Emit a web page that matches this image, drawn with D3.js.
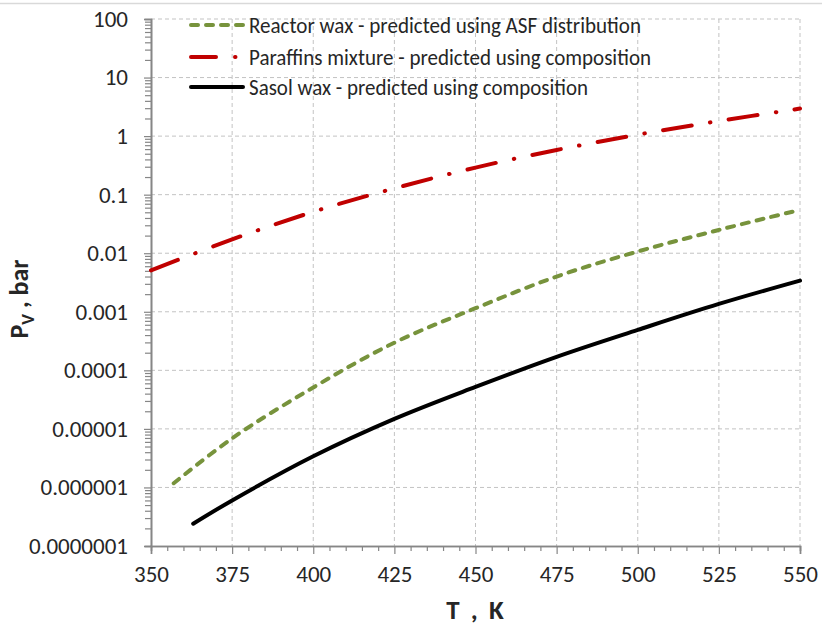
<!DOCTYPE html>
<html>
<head>
<meta charset="utf-8">
<script src="https://cdn.jsdelivr.net/npm/d3@7/dist/d3.min.js"></script>
<style>
  html, body { margin: 0; padding: 0; background: #fff; }
  svg { display: block; }
  text { font-family: Calibri, Carlito, Lato, "Open Sans", sans-serif; fill: #262626; }
</style>
</head>
<body>
<svg id="chart" width="822" height="633"></svg>
<script>
// Vapour pressure (bar) versus temperature (K)
const tempReactor  = [357, 375, 400, 425, 450, 475, 500, 525, 550];
const presReactor  = [1.18e-6, 6.9e-6, 5.1e-5, 2.97e-4, 1.15e-3, 4.0e-3, 1.07e-2, 2.5e-2, 5.5e-2];

const tempParaffin = [350, 375, 400, 425, 450, 475, 500, 525, 550];
const presParaffin = [5.1e-3, 1.72e-2, 5.1e-2, 0.128, 0.29, 0.58, 1.06, 1.81, 2.95];

const tempSasol    = [363, 375, 400, 425, 450, 475, 500, 525, 550];
const presSasol    = [2.4e-7, 6.0e-7, 3.4e-6, 1.48e-5, 5.2e-5, 1.7e-4, 4.9e-4, 1.36e-3, 3.4e-3];

const seriesNames = [
  "Reactor wax - predicted using ASF distribution",
  "Paraffins mixture - predicted using composition",
  "Sasol wax - predicted using composition"
];

const xTicks = [350, 375, 400, 425, 450, 475, 500, 525, 550];
const yTicks = [1e-7, 1e-6, 1e-5, 1e-4, 1e-3, 1e-2, 1e-1, 1, 10, 100];
const yTickLabels = ["0.0000001", "0.000001", "0.00001", "0.0001", "0.001", "0.01", "0.1", "1", "10", "100"];

const svg = d3.select("#chart");
const W = 822, H = 633;
const plot = { left: 151, right: 800, top: 19, bottom: 546 };

const x = d3.scaleLinear().domain([350, 550]).range([plot.left, plot.right]);
const y = d3.scaleLog().domain([1e-7, 100]).range([plot.bottom, plot.top]);

// thin frame line along the top of the chart area
svg.append("line")
  .attr("x1", 0).attr("x2", W).attr("y1", 3.5).attr("y2", 3.5)
  .attr("stroke", "#d9d9d9").attr("stroke-width", 1.5);

// gridlines
const grid = svg.append("g").attr("stroke", "#c3c3c3").attr("stroke-width", 1)
  .attr("stroke-dasharray", "4,3").attr("fill", "none");
xTicks.filter(t => t > 350).forEach(t => {
  grid.append("line").attr("x1", x(t)).attr("x2", x(t))
    .attr("y1", plot.top).attr("y2", plot.bottom);
});
yTicks.filter(t => t > 1e-7).forEach(t => {
  grid.append("line").attr("x1", plot.left).attr("x2", plot.right)
    .attr("y1", y(t)).attr("y2", y(t));
});

// minor tick positions
const yMinor = [];
for (let k = -7; k <= 1; k++) for (let m = 2; m <= 9; m++) yMinor.push(m * Math.pow(10, k));
const xMinor = d3.range(355, 550, 5).filter(v => v % 25 !== 0);

const axisColor = "#868686";

// y axis: minor ticks, then major ticks with labels
const yMinorAxis = svg.append("g").attr("transform", `translate(${plot.left},0)`)
  .call(d3.axisLeft(y).tickValues(yMinor).tickSize(6).tickFormat(""));
const yAxis = svg.append("g").attr("transform", `translate(${plot.left},0)`)
  .call(d3.axisLeft(y).tickValues(yTicks).tickSize(7).tickPadding(16)
    .tickFormat((d, i) => yTickLabels[i]));

// x axis: minor ticks, then major ticks with labels
const xMinorAxis = svg.append("g").attr("transform", `translate(0,${plot.bottom})`)
  .call(d3.axisBottom(x).tickValues(xMinor).tickSize(5).tickFormat(""));
const xAxis = svg.append("g").attr("transform", `translate(0,${plot.bottom})`)
  .call(d3.axisBottom(x).tickValues(xTicks).tickSize(8).tickPadding(12)
    .tickFormat(d3.format("d")));

[yMinorAxis, yAxis, xMinorAxis, xAxis].forEach(g => {
  g.select(".domain").attr("stroke", axisColor).attr("stroke-width", 1.6);
  g.selectAll(".tick line").attr("stroke", axisColor).attr("stroke-width", 1.2);
  g.selectAll(".tick text").attr("fill", "#262626")
    .style("font-size", "23px").style("font-family", "Calibri, Carlito, Lato, sans-serif");
});

// axis titles
svg.append("text")
  .attr("x", 475).attr("y", 619).attr("text-anchor", "middle")
  .style("font-size", "27px").style("font-weight", "bold")
  .style("word-spacing", "5px")
  .text("T , K");

const yTitle = svg.append("text")
  .attr("transform", "translate(28,299) rotate(-90)")
  .attr("text-anchor", "middle")
  .style("font-size", "26px").style("font-weight", "bold");
yTitle.append("tspan").text("P");
yTitle.append("tspan").attr("dy", 6).style("font-size", "18px").text("V");
yTitle.append("tspan").attr("dy", -6).text(" , bar");

// series lines
const line = d3.line()
  .x(d => x(d[0]))
  .y(d => y(d[1]))
  .curve(d3.curveCatmullRom.alpha(0.5));

const series = [
  { name: seriesNames[0], temps: tempReactor, pres: presReactor, color: "#77933C",
    dash: "7,8", legendDash: "7,8", legendEnd: 243 },
  { name: seriesNames[1], temps: tempParaffin, pres: presParaffin, color: "#C00000",
    dash: "29,18.5,0.5,18.5", legendDash: "25,19,0.5,20", legendEnd: 236 },
  { name: seriesNames[2], temps: tempSasol, pres: presSasol, color: "#000000",
    dash: null, legendDash: null, legendEnd: 243 }
];

const plotG = svg.append("g");
series.forEach(s => {
  const pts = s.temps.map((t, i) => [t, s.pres[i]]);
  plotG.append("path")
    .datum(pts)
    .attr("d", line)
    .attr("fill", "none")
    .attr("stroke", s.color)
    .attr("stroke-width", 4)
    .attr("stroke-linecap", "round")
    .attr("stroke-linejoin", "round")
    .attr("stroke-dasharray", s.dash);
});

// legend
const legendRows = [25, 57, 87];
const legendWidths = [392, 402, 339];
const legend = svg.append("g");
series.forEach((s, i) => {
  const cy = legendRows[i];
  legend.append("line")
    .attr("x1", 191).attr("x2", s.legendEnd)
    .attr("y1", cy).attr("y2", cy)
    .attr("stroke", s.color).attr("stroke-width", 4)
    .attr("stroke-linecap", "round")
    .attr("stroke-dasharray", s.legendDash);
  legend.append("text")
    .attr("x", 249).attr("y", cy + 7.5)
    .style("font-size", "22px")
    .attr("textLength", legendWidths[i])
    .attr("lengthAdjust", "spacingAndGlyphs")
    .text(s.name);
});
</script>
</body>
</html>
